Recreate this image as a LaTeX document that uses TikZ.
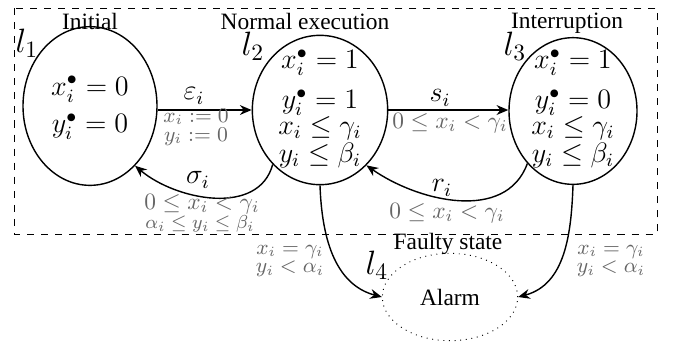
\documentclass[tikz,border=0pt]{standalone}
\usepackage{fontspec}
\setmainfont{Liberation Serif}
\usetikzlibrary{shapes.geometric,arrows.meta}

\begin{document}
\begin{tikzpicture}[
    x=0.015cm, y=-0.015cm,
    >={Stealth[length=5pt,width=4.2pt]},
    font=\normalsize,
    state/.style={
        draw=black,
        ellipse,
        semithick,
        inner sep=0pt
    },
    fault/.style={
        draw=black,
        dotted,
        ellipse,
        inner sep=0pt
    },
    inv/.style={align=center, inner sep=1pt, font=\fontsize{11.5}{13}\selectfont},
    loc/.style={font=\Large, inner sep=1pt},
    event/.style={font=\large, inner sep=1pt},
    guard/.style={text=black!60, inner sep=0.5pt},
    arr/.style={->, semithick}
]
\useasboundingbox (0,0) rectangle (678,341);

% supervised region
\draw[dashed] (14,8) rectangle (657,234);

% locations
\node[state, minimum width=2.01cm, minimum height=2.38cm] (init) at (90,106) {};
\node[state, minimum width=2.03cm, minimum height=2.24cm] (norm) at (320,110) {};
\node[state, minimum width=1.92cm, minimum height=2.2cm] (intr) at (573,111) {};
\node[fault, minimum width=2.03cm, minimum height=1.31cm] (alarm) at (450,297) {Alarm};

% invariants
\node[inv] (initinv) at (90,108)
{$x_i^{\bullet} = 0$\\[3pt]
$y_i^{\bullet} = 0$};
\node[inv] (norminv) at (320,109)
{$x_i^{\bullet} = 1$\\[4pt]
$y_i^{\bullet} = 1$\\[-2pt]
$x_i \leq \gamma_i$\\[-1pt]
$y_i \leq \beta_i$};
\node[inv] (intrinv) at (573,109)
{$x_i^{\bullet} = 1$\\[4pt]
$y_i^{\bullet} = 0$\\[-2pt]
$x_i \leq \gamma_i$\\[-1pt]
$y_i \leq \beta_i$};

% captions and location names
\node[inner sep=1pt] (capinit) at (90,21) {Initial};
\node[inner sep=1pt] (capnorm) at (305,21) {Normal execution};
\node[inner sep=1pt] (capintr) at (567,23) {Interruption};
\node[inner sep=1pt] (capalarm) at (448,244) {Faulty state};

\node[loc] (nameinit) at (27,43) {$l_1$};
\node[loc] (namenorm) at (253,46) {$l_2$};
\node[loc] (nameintr) at (515,46) {$l_3$};
\node[loc] (namealarm) at (377,265) {$l_4$};

% transitions
\draw[arr] (init.east |- norm.west) -- (norm.west);
\draw[arr] (norm.east) -- (norm.east -| intr.west);
\draw[arr] (norm.229) to[out=-105, in=-40] (init.-53);
\draw[arr] (intr.229) to[out=-110, in=-35] (norm.-50);
\draw[arr] (norm.south) to[out=-88, in=165] (alarm.west);
\draw[arr] (intr.south) to[out=-92, in=15] (alarm.east);

% transition labels
\node[event] (epsl) at (194,96) {$\varepsilon_i$};
\node[guard, font=\small, align=center] (epsreset) at (196,127)
{$x_i := 0$\\[-3pt]
$y_i := 0$};

\node[event] (sl) at (440,98) {$s_i$};
\node[guard] (sguard) at (450,123) {$0 \leq x_i < \gamma_i$};

\node[event] (sigmal) at (198,180) {$\sigma_i$};
\node[guard] (sigmaguard) at (202,204) {$0 \leq x_i < \gamma_i$};
\node[guard, font=\footnotesize] (sigmaguardb) at (200,224) {$\alpha_i \leq y_i \leq \beta_i$};

\node[event] (rl) at (442,188) {$r_i$};
\node[guard] (rguard) at (447,213) {$0 \leq x_i < \gamma_i$};

\node[guard, font=\small, align=center] (normfault) at (290,261)
{$x_i = \gamma_i$\\[-3pt]
$y_i < \alpha_i$};
\node[guard, font=\small, align=center] (intrfault) at (611,261)
{$x_i = \gamma_i$\\[-3pt]
$y_i < \alpha_i$};

\end{tikzpicture}
\end{document}
